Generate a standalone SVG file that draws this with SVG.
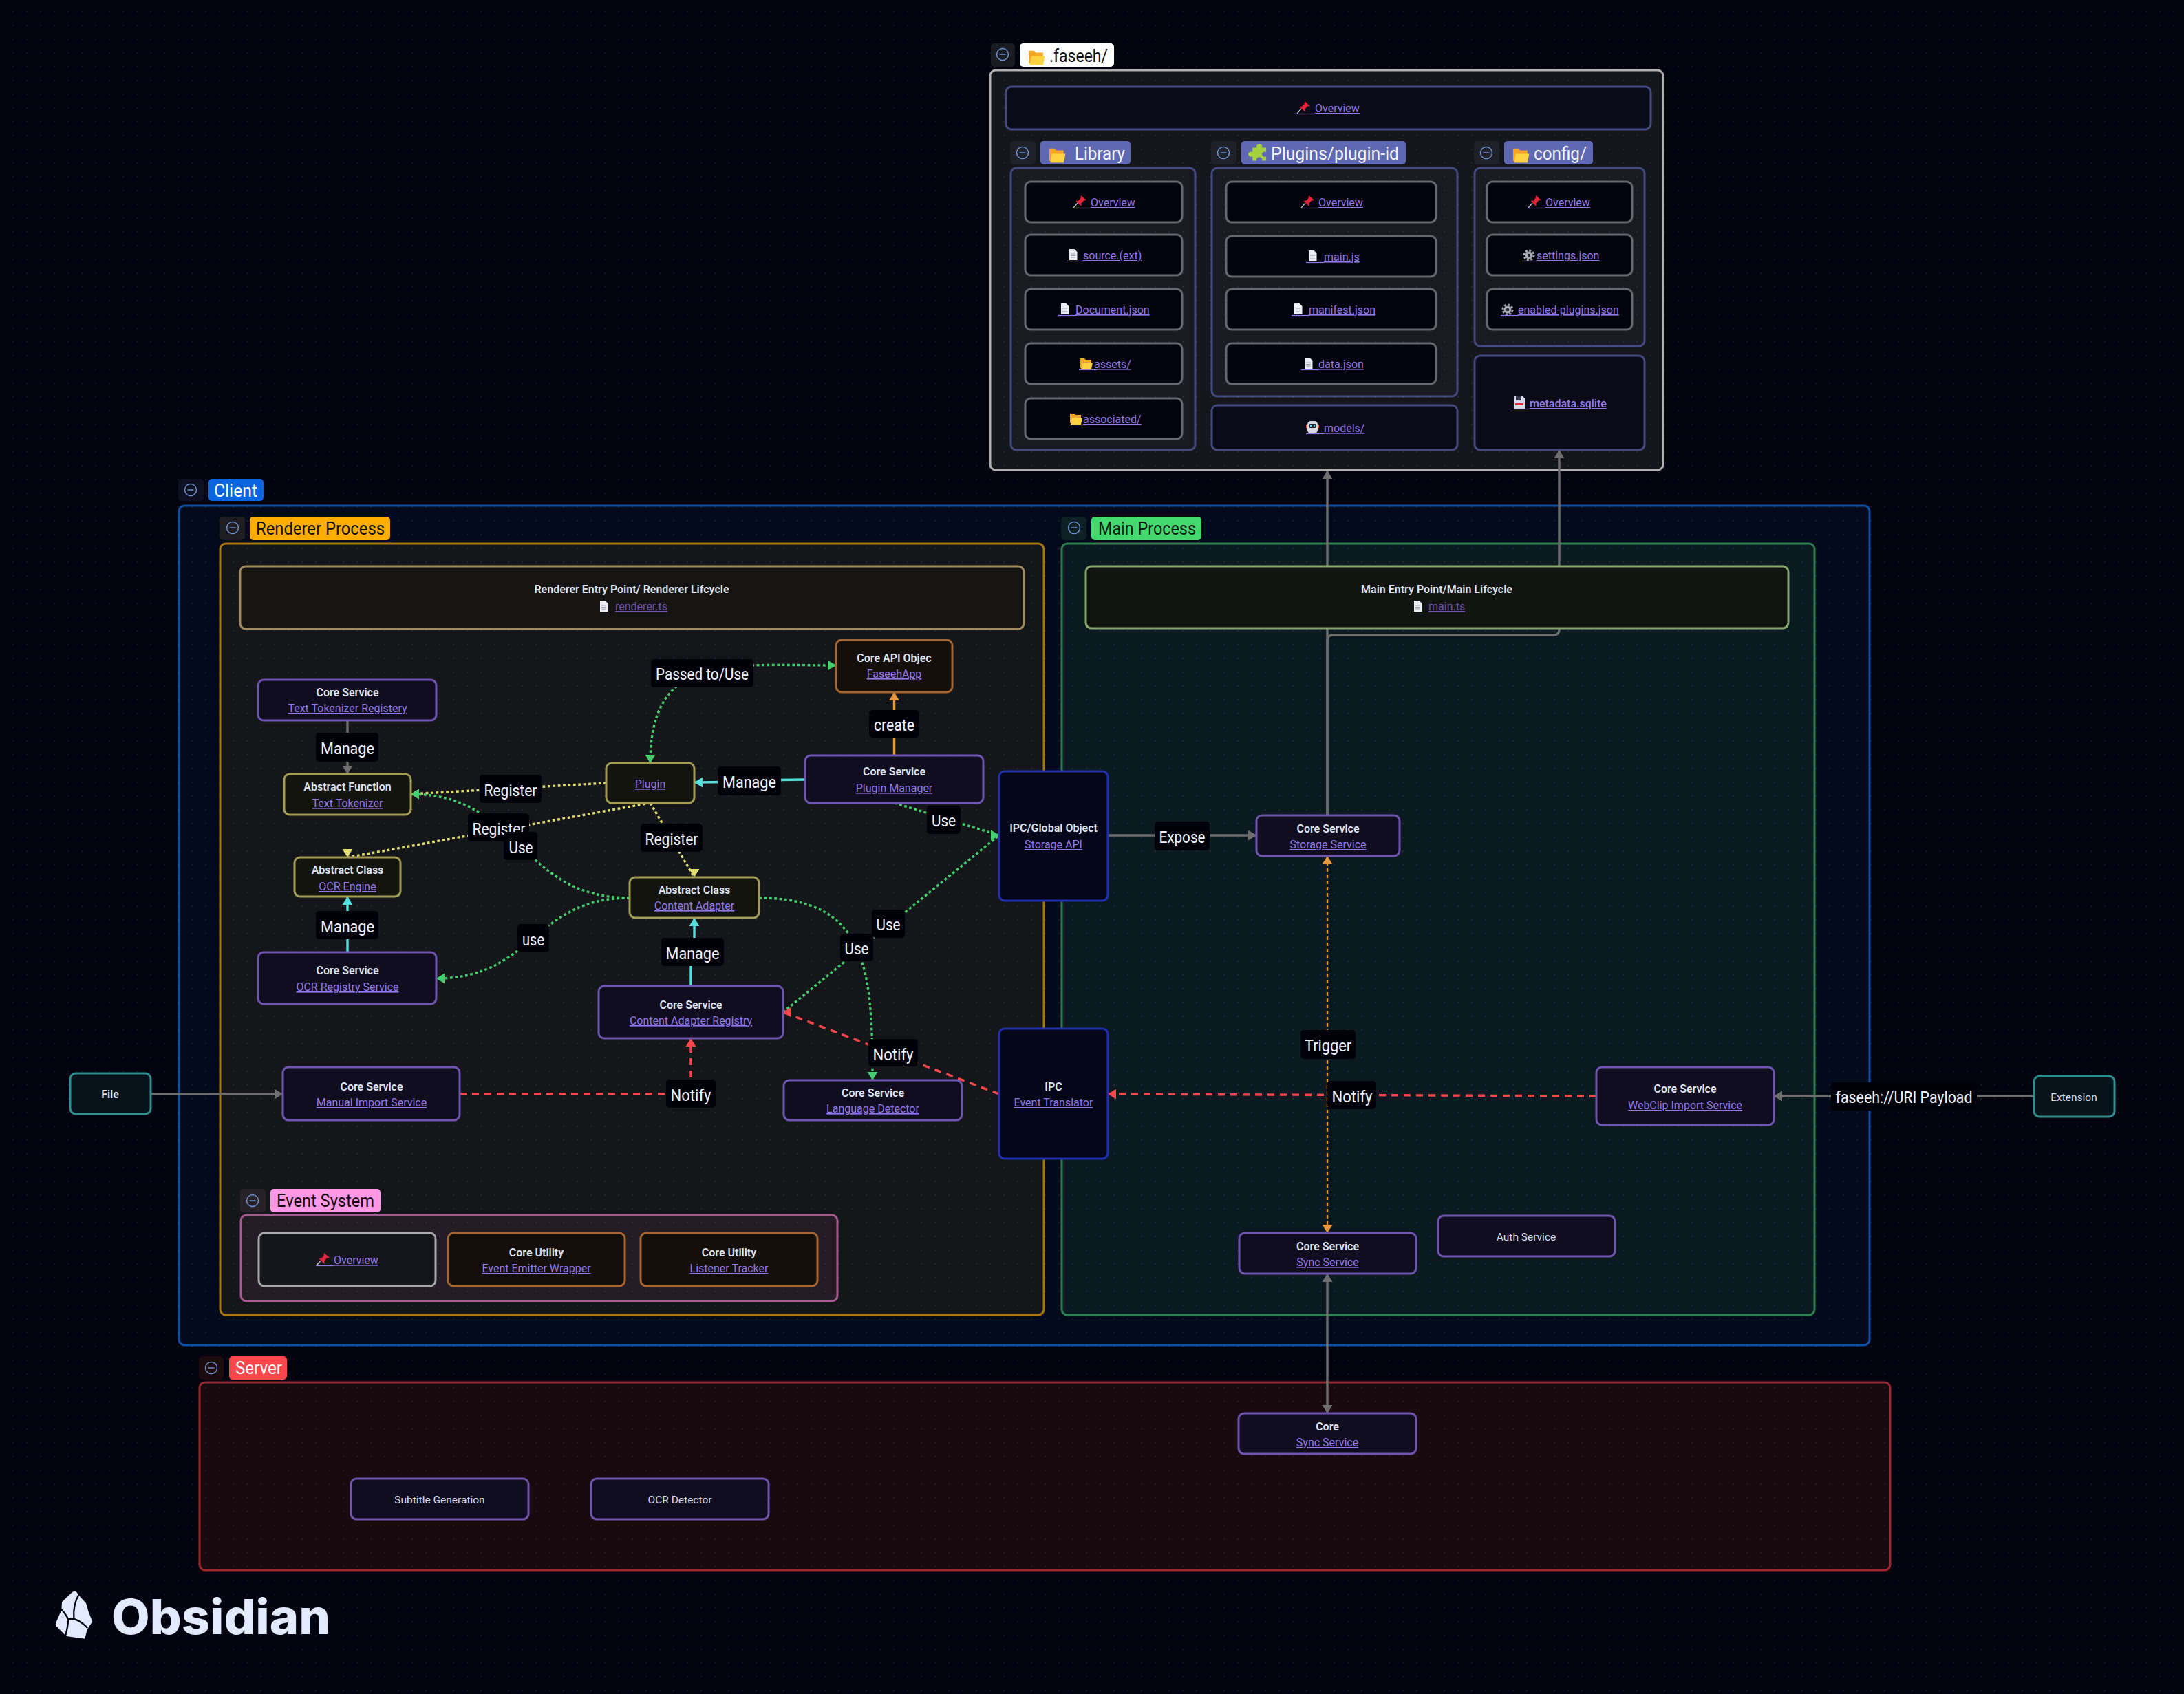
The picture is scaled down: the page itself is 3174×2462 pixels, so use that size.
<svg xmlns="http://www.w3.org/2000/svg" xmlns:xlink="http://www.w3.org/1999/xlink" width="3174" height="2462" viewBox="0 0 3174 2462">
<style>
text{font-family:"Roboto","Open Sans","Noto Sans",sans-serif}
.grp{stroke-width:3}
.n{stroke-width:3}
.pu{fill:#100d20;stroke:#6f54b0}
.ye{fill:#14140e;stroke:#a39c55}
.or{fill:#150f0b;stroke:#a8652e}
.bl{fill:#05061a;stroke:#1f30b4}
.te{fill:#06131a;stroke:#2f8f8f}
.in{fill:#03030e;stroke:#666870}
.ov{fill:#0a0a18;stroke:#434a80}
.wh{fill:#15161b;stroke:#a8a8a8}
.t{font-size:16px;font-weight:600;fill:#dfe3f0;text-anchor:middle}
.p{font-size:15.5px;fill:#d8dbe8;text-anchor:middle}
.l{font-size:16px;fill:#9379e6;text-anchor:middle;text-decoration:underline}
.ld{font-size:16px;fill:#6b52ae;text-decoration:underline}
.ls{font-size:16px;fill:#9379e6;text-decoration:underline}
.gt{font-size:25px}
.eb{fill:#01010a}
.et{font-size:24px;fill:#f2f4ff;text-anchor:middle;transform:translateY(1.500px)}
.c{fill:none;stroke-width:3.4}
.g{stroke:#6e6e6e}
.gn{stroke:#44cf6e;stroke-dasharray:3.8 3.6}
.yl{stroke:#e0de71;stroke-dasharray:3.8 3.6}
.cy{stroke:#53dfdd}
.og{stroke:#e9973f}
.rd{stroke:#fb464c;stroke-dasharray:10 8}
.ul{stroke:#9379e6;stroke-width:1.2;fill:none}
.btn{stroke:none}
.mi{fill:none;stroke:#6f90cc;stroke-width:1.5}
</style>
<defs>
<pattern id="dots" width="20" height="20" patternUnits="userSpaceOnUse" x="9" y="7"><circle cx="10" cy="10" r="1" fill="#8a94c8" fill-opacity=".16"/></pattern>
<marker id="g-u" markerUnits="userSpaceOnUse" markerWidth="14" markerHeight="16" refX="12" refY="8" orient="270"><path d="M0 .5L12 8L0 15.5z" fill="#6e6e6e"/></marker>
<marker id="g-d" markerUnits="userSpaceOnUse" markerWidth="14" markerHeight="16" refX="12" refY="8" orient="90"><path d="M0 .5L12 8L0 15.5z" fill="#6e6e6e"/></marker>
<marker id="g-l" markerUnits="userSpaceOnUse" markerWidth="14" markerHeight="16" refX="12" refY="8" orient="180"><path d="M0 .5L12 8L0 15.5z" fill="#6e6e6e"/></marker>
<marker id="g-r" markerUnits="userSpaceOnUse" markerWidth="14" markerHeight="16" refX="12" refY="8" orient="0"><path d="M0 .5L12 8L0 15.5z" fill="#6e6e6e"/></marker>
<marker id="gn-d" markerUnits="userSpaceOnUse" markerWidth="14" markerHeight="16" refX="12" refY="8" orient="90"><path d="M0 .5L12 8L0 15.5z" fill="#44cf6e"/></marker>
<marker id="gn-l" markerUnits="userSpaceOnUse" markerWidth="14" markerHeight="16" refX="12" refY="8" orient="180"><path d="M0 .5L12 8L0 15.5z" fill="#44cf6e"/></marker>
<marker id="gn-r" markerUnits="userSpaceOnUse" markerWidth="14" markerHeight="16" refX="12" refY="8" orient="0"><path d="M0 .5L12 8L0 15.5z" fill="#44cf6e"/></marker>
<marker id="yl-l" markerUnits="userSpaceOnUse" markerWidth="14" markerHeight="16" refX="12" refY="8" orient="180"><path d="M0 .5L12 8L0 15.5z" fill="#e0de71"/></marker>
<marker id="yl-d" markerUnits="userSpaceOnUse" markerWidth="14" markerHeight="16" refX="12" refY="8" orient="90"><path d="M0 .5L12 8L0 15.5z" fill="#e0de71"/></marker>
<marker id="cy-u" markerUnits="userSpaceOnUse" markerWidth="14" markerHeight="16" refX="12" refY="8" orient="270"><path d="M0 .5L12 8L0 15.5z" fill="#53dfdd"/></marker>
<marker id="cy-l" markerUnits="userSpaceOnUse" markerWidth="14" markerHeight="16" refX="12" refY="8" orient="180"><path d="M0 .5L12 8L0 15.5z" fill="#53dfdd"/></marker>
<marker id="og-u" markerUnits="userSpaceOnUse" markerWidth="14" markerHeight="16" refX="12" refY="8" orient="270"><path d="M0 .5L12 8L0 15.5z" fill="#e9973f"/></marker>
<marker id="og-d" markerUnits="userSpaceOnUse" markerWidth="14" markerHeight="16" refX="12" refY="8" orient="90"><path d="M0 .5L12 8L0 15.5z" fill="#e9973f"/></marker>
<marker id="rd-u" markerUnits="userSpaceOnUse" markerWidth="14" markerHeight="16" refX="12" refY="8" orient="270"><path d="M0 .5L12 8L0 15.5z" fill="#fb464c"/></marker>
<marker id="rd-l" markerUnits="userSpaceOnUse" markerWidth="14" markerHeight="16" refX="12" refY="8" orient="180"><path d="M0 .5L12 8L0 15.5z" fill="#fb464c"/></marker>
<g id="i-pin"><path d="M11-16L19-9 15-8.500 11.500-4.500 11.500 0 3.500-8 7.500-8.500 10.500-12z" fill="#e8233a"/><path d="M6-5L0 2" stroke="#c9ccd8" stroke-width="1.2"/></g>
<path id="i-ul26" class="ul" d="M0 2.500h26"/>
<g id="i-doc"><path d="M2-15h7.500l4 4V1h-11.500z" fill="#eeeef6"/><path d="M4-8h7M4-5.500h7M4-3h7" stroke="#a0a0b0" stroke-width="1"/></g>
<g id="i-folder"><path d="M0-14h6l2 2h8v12H0z" fill="#f5a623"/><path d="M3-8h15l-2 10H1z" fill="#ffd23f"/></g>
<g id="i-gear"><circle cx="8" cy="-6" r="7" fill="none" stroke="#a6a8b2" stroke-width="3" stroke-dasharray="3 2.500"/><circle cx="8" cy="-6" r="5.500" fill="#a6a8b2"/><circle cx="8" cy="-6" r="2.200" fill="#26262e"/></g>
<g id="i-floppy"><path d="M1-16h13l3 3V2H1z" fill="#d8d8e8"/><rect x="4" y="-16" width="8" height="6" fill="#333344"/><rect x="3" y="-6" width="12" height="3" fill="#e8233a"/></g>
<g id="i-robot"><rect x="1" y="-16" width="15" height="18" rx="5" fill="#d8d8e0"/><rect x="3" y="-12" width="11" height="6" rx="2" fill="#1e2430"/><rect x="5" y="-10.500" width="2" height="2.500" fill="#5fd8f0"/><rect x="10" y="-10.500" width="2" height="2.500" fill="#5fd8f0"/><rect x="-1" y="-11" width="2" height="5" fill="#e8533a"/><rect x="16" y="-11" width="2" height="5" fill="#e8533a"/></g>
<g id="i-puzzle"><path d="M4-16h6a4 4 0 1 1 7 0h6v7a4 4 0 1 0 0 7v7h-6a4 4 0 1 0-7 0H4V-2a4 4 0 1 1 0-7z" fill="#a4d13c"/></g>
<g id="i-minus"><circle r="8.500" class="mi"/><path d="M-4.500 0h9" class="mi"/></g>
</defs>
<rect id="canvas" width="3174" height="2462" fill="#02030f"/>
<g id="groups">
<g id="group-client"><rect class="grp" x="260" y="735" width="2457" height="1220" rx="8" fill="#020a1c" stroke="#0c4fa6"/></g>
<g id="group-renderer"><rect class="grp" x="320" y="790" width="1197" height="1121" rx="8" fill="#15161a" stroke="#a8780f"/></g>
<g id="group-main"><rect class="grp" x="1543" y="790" width="1094" height="1121" rx="8" fill="#0a1a20" stroke="#2e8050"/></g>
<g id="group-server"><rect class="grp" x="290" y="2009" width="2457" height="273" rx="8" fill="#180a0f" stroke="#9c2a2e"/></g>
<g id="group-faseeh"><rect class="grp" x="1439" y="102" width="978" height="581" rx="8" fill="#15161b" stroke="#b0b0b0"/></g>
<g id="group-library"><rect class="grp" x="1469" y="244" width="268" height="410" rx="8" fill="#191a22" stroke="#434a80"/></g>
<g id="group-plugins"><rect class="grp" x="1761" y="244" width="357" height="332" rx="8" fill="#191a22" stroke="#434a80"/></g>
<g id="group-config"><rect class="grp" x="2143" y="244" width="247" height="259" rx="8" fill="#191a22" stroke="#434a80"/></g>
<g id="group-event"><rect class="grp" x="350" y="1766" width="867" height="125" rx="8" fill="#241d26" stroke="#a65a90"/></g>
</g>
<rect id="grid" width="3174" height="2462" fill="url(#dots)"/>
<g id="group-labels">
<g id="label-faseeh"><rect class="btn" x="1440" y="63" width="35" height="34" rx="5" fill="#1a1b22"/><use href="#i-minus" x="1457" y="79"/><rect x="1482" y="63" width="137" height="34" rx="5" fill="#fff"/><use href="#i-folder" transform="translate(1495 92) scale(1.3)"/><text class="gt" x="1525" y="90" fill="#0c0c14" textLength="85" lengthAdjust="spacingAndGlyphs">.faseeh/</text></g>
<g id="label-library"><rect class="btn" x="1468" y="205" width="37" height="34" rx="5" fill="#1f2029"/><use href="#i-minus" x="1486" y="222"/><rect x="1512" y="205" width="131" height="34" rx="5" fill="#5f68b2"/><use href="#i-folder" transform="translate(1525 234) scale(1.3)"/><text class="gt" x="1562" y="232" fill="#f4f6ff" textLength="73" lengthAdjust="spacingAndGlyphs">Library</text></g>
<g id="label-plugins"><rect class="btn" x="1760" y="205" width="37" height="34" rx="5" fill="#1f2029"/><use href="#i-minus" x="1778" y="222"/><rect x="1804" y="205" width="239" height="34" rx="5" fill="#5f68b2"/><use href="#i-puzzle" transform="translate(1816 229) scale(1.05 .9)"/><text class="gt" x="1847" y="232" fill="#f4f6ff" textLength="186" lengthAdjust="spacingAndGlyphs">Plugins/plugin-id</text></g>
<g id="label-config"><rect class="btn" x="2142" y="205" width="37" height="34" rx="5" fill="#1f2029"/><use href="#i-minus" x="2160" y="222"/><rect x="2186" y="205" width="129" height="34" rx="5" fill="#5f68b2"/><use href="#i-folder" transform="translate(2199 234) scale(1.3)"/><text class="gt" x="2229" y="232" fill="#f4f6ff" textLength="77" lengthAdjust="spacingAndGlyphs">config/</text></g>
<g id="label-client"><rect class="btn" x="259" y="696" width="37" height="32" rx="5" fill="#0b1120"/><use href="#i-minus" x="277" y="712"/><rect x="303" y="696" width="80" height="32" rx="5" fill="#0a65e0"/><text class="gt" x="311" y="722" fill="#fff" textLength="63" lengthAdjust="spacingAndGlyphs">Client</text></g>
<g id="label-renderer"><rect class="btn" x="319" y="751" width="37" height="34" rx="5" fill="#1e1e22"/><use href="#i-minus" x="338" y="767"/><rect x="363" y="751" width="204" height="34" rx="5" fill="#ffae00"/><text class="gt" x="372" y="777" fill="#14100a" textLength="187" lengthAdjust="spacingAndGlyphs">Renderer Process</text></g>
<g id="label-main"><rect class="btn" x="1542" y="751" width="37" height="34" rx="5" fill="#0c2026"/><use href="#i-minus" x="1561" y="767"/><rect x="1586" y="751" width="160" height="34" rx="5" fill="#44d96e"/><text class="gt" x="1596" y="777" fill="#0c1a10" textLength="142" lengthAdjust="spacingAndGlyphs">Main Process</text></g>
<g id="label-event"><rect class="btn" x="349" y="1728" width="37" height="34" rx="5" fill="#272228"/><use href="#i-minus" x="367" y="1745"/><rect x="393" y="1728" width="160" height="34" rx="5" fill="#ff99e6"/><text class="gt" x="402" y="1754" fill="#120a10" textLength="142" lengthAdjust="spacingAndGlyphs">Event System</text></g>
<g id="label-server"><rect class="btn" x="289" y="1971" width="36" height="34" rx="5" fill="#1c0c10"/><use href="#i-minus" x="307" y="1988"/><rect x="333" y="1971" width="84" height="34" rx="5" fill="#fb464c"/><text class="gt" x="342" y="1997" fill="#fff" textLength="68" lengthAdjust="spacingAndGlyphs">Server</text></g>
</g>
<g id="connectors">
<path class="c g" d="M505 1047V1125" marker-end="url(#g-d)"/>
<path class="c g" d="M219 1590H411" marker-end="url(#g-r)"/>
<path class="c g" d="M2956 1593H2578" marker-end="url(#g-l)"/>
<path class="c g" d="M1610 1214H1826" marker-end="url(#g-r)"/>
<path class="c g" d="M1929 1185V684" marker-end="url(#g-u)"/>
<path class="c g" d="M1929 1185V931Q1929 923 1937 923H2258Q2266 923 2266 915V654" marker-end="url(#g-u)"/>
<path class="c g" d="M1929 1851V2054" marker-start="url(#g-u)" marker-end="url(#g-d)"/>
<path class="c cy" d="M505 1384V1303" marker-end="url(#cy-u)"/>
<path class="c cy" d="M1170 1133C1100 1133 1080 1137 1009 1137" marker-end="url(#cy-l)"/>
<path class="c cy" d="M1004 1433V1383H1009V1334" marker-end="url(#cy-u)"/>
<path class="c og" d="M1299.500 1098V1006" marker-end="url(#og-u)"/>
<path class="c og" style="stroke-width:2.4;stroke-dasharray:5 4" d="M1929 1244V1792" marker-start="url(#og-u)" marker-end="url(#og-d)"/>
<path class="c yl" d="M881 1138L597 1154" marker-end="url(#yl-l)"/>
<path class="c yl" d="M945 1167L505 1246" marker-end="url(#yl-d)"/>
<path class="c yl" d="M945 1167L1009 1275" marker-end="url(#yl-d)"/>
<path class="c gn" d="M915 1305C756 1305 756 1154 597 1154" marker-end="url(#gn-l)"/>
<path class="c gn" d="M915 1305C775 1305 775 1422 634 1422" marker-end="url(#gn-l)"/>
<path class="c gn" d="M945 1109C945 949 1055 967 1215 967" marker-start="url(#gn-d)" marker-end="url(#gn-r)"/>
<path class="c gn" d="M1300 1167L1452 1214" marker-end="url(#gn-r)"/>
<path class="c gn" d="M1138 1471L1452 1214" marker-end="url(#gn-r)"/>
<path class="c gn" d="M1103 1305C1261 1305 1268 1409 1268 1570" marker-end="url(#gn-d)"/>
<path class="c rd" d="M1452 1590L1138 1471" marker-end="url(#rd-l)"/>
<path class="c rd" d="M668 1590H1004V1509" marker-end="url(#rd-u)"/>
<path class="c rd" d="M2320 1593L1610 1590" marker-end="url(#rd-l)"/>
</g>
<g id="nodes">
<g id="n-faseeh-overview"><rect class="n ov" x="1462" y="126" width="937" height="62" rx="8"/><use href="#i-pin" x="1885" y="163"/><use href="#i-ul26" x="1885" y="163"/><text class="ls" x="1911" y="163">Overview</text></g>
<g id="n-lib-overview"><rect class="n in" x="1490" y="264" width="228" height="59" rx="8"/><use href="#i-pin" x="1560" y="300"/><use href="#i-ul26" x="1559" y="300"/><text class="ls" x="1585" y="300">Overview</text></g>
<g id="n-lib-source"><rect class="n in" x="1490" y="341" width="228" height="59" rx="8"/><use href="#i-doc" x="1552" y="377"/><use href="#i-ul26" x="1550" y="377"/><text class="ls" x="1574" y="377">source.(ext)</text></g>
<g id="n-lib-document"><rect class="n in" x="1490" y="420" width="228" height="59" rx="8"/><use href="#i-doc" x="1540" y="456"/><use href="#i-ul26" x="1538" y="456"/><text class="ls" x="1563" y="456">Document.json</text></g>
<g id="n-lib-assets"><rect class="n in" x="1490" y="499" width="228" height="59" rx="8"/><use href="#i-folder" x="1570" y="535"/><use href="#i-ul26" x="1568" y="535"/><text class="ls" x="1590" y="535">assets/</text></g>
<g id="n-lib-associated"><rect class="n in" x="1490" y="579" width="228" height="59" rx="8"/><use href="#i-folder" x="1555" y="615"/><use href="#i-ul26" x="1553" y="615"/><text class="ls" x="1574" y="615">associated/</text></g>
<g id="n-plg-overview"><rect class="n in" x="1782" y="264" width="305" height="59" rx="8"/><use href="#i-pin" x="1891" y="300"/><use href="#i-ul26" x="1890" y="300"/><text class="ls" x="1916" y="300">Overview</text></g>
<g id="n-plg-main"><rect class="n in" x="1782" y="343" width="305" height="59" rx="8"/><use href="#i-doc" x="1900" y="379"/><use href="#i-ul26" x="1898" y="379"/><text class="ls" x="1924" y="379">main.js</text></g>
<g id="n-plg-manifest"><rect class="n in" x="1782" y="420" width="305" height="59" rx="8"/><use href="#i-doc" x="1879" y="456"/><use href="#i-ul26" x="1877" y="456"/><text class="ls" x="1902" y="456">manifest.json</text></g>
<g id="n-plg-data"><rect class="n in" x="1782" y="499" width="305" height="59" rx="8"/><use href="#i-doc" x="1894" y="535"/><use href="#i-ul26" x="1891" y="535"/><text class="ls" x="1916" y="535">data.json</text></g>
<g id="n-models"><rect class="n ov" x="1761" y="589" width="357" height="65" rx="8"/><use href="#i-robot" x="1899" y="628"/><use href="#i-ul26" x="1898" y="628"/><text class="ls" x="1924" y="628">models/</text></g>
<g id="n-cfg-overview"><rect class="n in" x="2161" y="264" width="211" height="59" rx="8"/><use href="#i-pin" x="2221" y="300"/><use href="#i-ul26" x="2220" y="300"/><text class="ls" x="2246" y="300">Overview</text></g>
<g id="n-cfg-settings"><rect class="n in" x="2161" y="341" width="211" height="59" rx="8"/><use href="#i-gear" x="2214" y="377"/><use href="#i-ul26" x="2212" y="377"/><text class="ls" x="2233" y="377">settings.json</text></g>
<g id="n-cfg-enabled"><rect class="n in" x="2161" y="420" width="211" height="59" rx="8"/><use href="#i-gear" x="2183" y="456"/><use href="#i-ul26" x="2181" y="456"/><text class="ls" x="2206" y="456">enabled-plugins.json</text></g>
<g id="n-metadata"><rect class="n ov" x="2143" y="517" width="247" height="137" rx="8"/><use href="#i-floppy" x="2199" y="592"/><use href="#i-ul26" x="2198" y="592"/><text class="ls" style="font-weight:500" x="2223" y="592">metadata.sqlite</text></g>
<g id="n-renderer-entry"><rect class="n" x="349" y="823" width="1139" height="91" rx="8" fill="#161412" stroke="#a08a5a"/><text class="t" x="918" y="862">Renderer Entry Point/ Renderer Lifcycle</text><use href="#i-doc" x="870" y="888"/><text class="ld" x="894" y="887">renderer.ts</text></g>
<g id="n-main-entry"><rect class="n" x="1578" y="823" width="1021" height="90" rx="8" fill="#121411" stroke="#86a868"/><text class="t" x="2088" y="862">Main Entry Point/Main Lifcycle</text><use href="#i-doc" x="2053" y="888"/><text class="ld" x="2076" y="887">main.ts</text></g>
<g id="n-ttr"><rect class="n pu" x="375" y="988" width="259" height="59" rx="8"/><text class="t" x="505" y="1012">Core Service</text><text class="l" x="505" y="1035">Text Tokenizer Registery</text></g>
<g id="n-tt"><rect class="n ye" x="413" y="1125" width="184" height="59" rx="8"/><text class="t" x="505" y="1149">Abstract Function</text><text class="l" x="505" y="1173">Text Tokenizer</text></g>
<g id="n-ocr-engine"><rect class="n ye" x="428" y="1246" width="154" height="57" rx="8"/><text class="t" x="505" y="1270">Abstract Class</text><text class="l" x="505" y="1294">OCR Engine</text></g>
<g id="n-ocr-reg"><rect class="n pu" x="375" y="1384" width="259" height="75" rx="8"/><text class="t" x="505" y="1416">Core Service</text><text class="l" x="505" y="1440">OCR Registry Service</text></g>
<g id="n-faseehapp"><rect class="n or" x="1215" y="930" width="169" height="76" rx="8"/><text class="t" x="1299.500" y="962">Core API Objec</text><text class="l" x="1299.500" y="985">FaseehApp</text></g>
<g id="n-plugin-mgr"><rect class="n pu" x="1170" y="1098" width="259" height="69" rx="8"/><text class="t" x="1299.500" y="1127">Core Service</text><text class="l" x="1299.500" y="1151">Plugin Manager</text></g>
<g id="n-plugin"><rect class="n ye" x="881" y="1109" width="128" height="58" rx="8"/><text class="l" x="945" y="1145">Plugin</text></g>
<g id="n-content-adapter"><rect class="n ye" x="915" y="1275" width="188" height="59" rx="8"/><text class="t" x="1009" y="1299">Abstract Class</text><text class="l" x="1009" y="1322">Content Adapter</text></g>
<g id="n-car"><rect class="n pu" x="870" y="1433" width="268" height="76" rx="8"/><text class="t" x="1004" y="1466">Core Service</text><text class="l" x="1004" y="1489">Content Adapter Registry</text></g>
<g id="n-lang"><rect class="n pu" x="1139" y="1570" width="259" height="58" rx="8"/><text class="t" x="1268.500" y="1594">Core Service</text><text class="l" x="1268.500" y="1617">Language Detector</text></g>
<g id="n-ipc-global"><rect class="n bl" x="1452" y="1121" width="158" height="188" rx="8"/><text class="t" x="1531" y="1209">IPC/Global Object</text><text class="l" x="1531" y="1233">Storage API</text></g>
<g id="n-ipc"><rect class="n bl" x="1452" y="1495" width="158" height="189" rx="8"/><text class="t" x="1531" y="1585">IPC</text><text class="l" x="1531" y="1608">Event Translator</text></g>
<g id="n-storage"><rect class="n pu" x="1826" y="1185" width="208" height="59" rx="8"/><text class="t" x="1930" y="1210">Core Service</text><text class="l" x="1930" y="1233">Storage Service</text></g>
<g id="n-file"><rect class="n te" x="102" y="1560" width="117" height="59" rx="8"/><text class="t" x="160" y="1596">File</text></g>
<g id="n-manual"><rect class="n pu" x="411" y="1551" width="257" height="77" rx="8"/><text class="t" x="540" y="1585">Core Service</text><text class="l" x="540" y="1608">Manual Import Service</text></g>
<g id="n-webclip"><rect class="n pu" x="2320" y="1551" width="258" height="84" rx="8"/><text class="t" x="2449" y="1588">Core Service</text><text class="l" x="2449" y="1612">WebClip Import Service</text></g>
<g id="n-extension"><rect class="n te" x="2956" y="1564" width="117" height="59" rx="8"/><text class="p" x="3014" y="1600">Extension</text></g>
<g id="n-sync"><rect class="n pu" x="1801" y="1792" width="257" height="59" rx="8"/><text class="t" x="1929.500" y="1817">Core Service</text><text class="l" x="1929.500" y="1840">Sync Service</text></g>
<g id="n-auth"><rect class="n pu" x="2090" y="1767" width="257" height="59" rx="8"/><text class="p" x="2218" y="1803">Auth Service</text></g>
<g id="n-event-overview"><rect class="n wh" x="376" y="1792" width="257" height="77" rx="8"/><use href="#i-pin" x="460" y="1837"/><use href="#i-ul26" x="459" y="1837"/><text class="ls" x="485" y="1837">Overview</text></g>
<g id="n-emitter"><rect class="n or" x="651" y="1792" width="257" height="77" rx="8"/><text class="t" x="779.500" y="1826">Core Utility</text><text class="l" x="779.500" y="1849">Event Emitter Wrapper</text></g>
<g id="n-listener"><rect class="n or" x="931" y="1792" width="257" height="77" rx="8"/><text class="t" x="1059.500" y="1826">Core Utility</text><text class="l" x="1059.500" y="1849">Listener Tracker</text></g>
<g id="n-core-sync"><rect class="n pu" x="1800" y="2054" width="258" height="59" rx="8"/><text class="t" x="1929" y="2079">Core</text><text class="l" x="1929" y="2102">Sync Service</text></g>
<g id="n-subtitle"><rect class="n pu" x="510" y="2149" width="258" height="59" rx="8"/><text class="p" x="639" y="2185">Subtitle Generation</text></g>
<g id="n-ocr-detector"><rect class="n pu" x="859" y="2149" width="258" height="59" rx="8"/><text class="p" x="988" y="2185">OCR Detector</text></g>
</g>
<g id="edge-labels">
<g><rect class="eb" x="459" y="1065" width="91" height="42" rx="5"/><text class="et" x="505" y="1094" textLength="78" lengthAdjust="spacingAndGlyphs">Manage</text></g>
<g><rect class="eb" x="459" y="1324" width="91" height="41" rx="5"/><text class="et" x="505" y="1353" textLength="78" lengthAdjust="spacingAndGlyphs">Manage</text></g>
<g><rect class="eb" x="697" y="1126" width="90" height="41" rx="5"/><text class="et" x="742" y="1155" textLength="77" lengthAdjust="spacingAndGlyphs">Register</text></g>
<g><rect class="eb" x="680" y="1182" width="89" height="41" rx="5"/><text class="et" x="725" y="1211" textLength="77" lengthAdjust="spacingAndGlyphs">Register</text></g>
<g><rect class="eb" x="732" y="1209" width="49" height="41" rx="5"/><text class="et" x="757" y="1238" textLength="35" lengthAdjust="spacingAndGlyphs">Use</text></g>
<g><rect class="eb" x="931" y="1197" width="90" height="41" rx="5"/><text class="et" x="976" y="1226" textLength="77" lengthAdjust="spacingAndGlyphs">Register</text></g>
<g><rect class="eb" x="752" y="1343" width="46" height="41" rx="5"/><text class="et" x="775" y="1372" textLength="32" lengthAdjust="spacingAndGlyphs">use</text></g>
<g><rect class="eb" x="946" y="958" width="149" height="41" rx="5"/><text class="et" x="1020.500" y="986" textLength="135" lengthAdjust="spacingAndGlyphs">Passed to/Use</text></g>
<g><rect class="eb" x="1043" y="1114" width="92" height="42" rx="5"/><text class="et" x="1089" y="1143" textLength="78" lengthAdjust="spacingAndGlyphs">Manage</text></g>
<g><rect class="eb" x="1263" y="1032" width="73" height="40" rx="5"/><text class="et" x="1299.500" y="1060" textLength="59" lengthAdjust="spacingAndGlyphs">create</text></g>
<g><rect class="eb" x="1347" y="1171" width="49" height="41" rx="5"/><text class="et" x="1371.500" y="1199" textLength="35" lengthAdjust="spacingAndGlyphs">Use</text></g>
<g><rect class="eb" x="1267" y="1322" width="48" height="41" rx="5"/><text class="et" x="1291" y="1350" textLength="35" lengthAdjust="spacingAndGlyphs">Use</text></g>
<g><rect class="eb" x="1221" y="1357" width="48" height="40" rx="5"/><text class="et" x="1245" y="1385" textLength="35" lengthAdjust="spacingAndGlyphs">Use</text></g>
<g><rect class="eb" x="961" y="1363" width="91" height="41" rx="5"/><text class="et" x="1006.500" y="1392" textLength="78" lengthAdjust="spacingAndGlyphs">Manage</text></g>
<g><rect class="eb" x="1262" y="1510" width="72" height="40" rx="5"/><text class="et" x="1298" y="1539" textLength="59" lengthAdjust="spacingAndGlyphs">Notify</text></g>
<g><rect class="eb" x="968" y="1569" width="72" height="41" rx="5"/><text class="et" x="1004" y="1598" textLength="59" lengthAdjust="spacingAndGlyphs">Notify</text></g>
<g><rect class="eb" x="1929" y="1571" width="71" height="41" rx="5"/><text class="et" x="1965" y="1600" textLength="59" lengthAdjust="spacingAndGlyphs">Notify</text></g>
<g><rect class="eb" x="1890" y="1497" width="80" height="42" rx="5"/><text class="et" x="1930" y="1526" textLength="68" lengthAdjust="spacingAndGlyphs">Trigger</text></g>
<g><rect class="eb" x="1678" y="1194" width="80" height="42" rx="5"/><text class="et" x="1718" y="1223" textLength="67" lengthAdjust="spacingAndGlyphs">Expose</text></g>
<g><rect class="eb" x="2661" y="1573" width="212" height="41" rx="5"/><text class="et" x="2767" y="1601" textLength="199" lengthAdjust="spacingAndGlyphs">faseeh://URI Payload</text></g>
</g>
<g id="logo">
<g transform="translate(70 2300) scale(.3333)"><path d="M115 38Q125 38 130 52L165 90Q172 110 175 125L193 170L170 205L160 245Q120 240 85 235L75 230L35 190Q30 183 34 175L58 120L60 85L105 42Z" fill="#e1eaff"/><path d="M134 52Q108 95 112 155M55 115Q72 130 88 160Q85 200 75 232M88 160Q125 150 172 198" fill="none" stroke="#02030f" stroke-width="7"/></g>
<text x="162" y="2375" font-size="70" font-weight="800" fill="#e1eaff" textLength="318" lengthAdjust="spacingAndGlyphs" style="font-family:Inter,sans-serif">Obsidian</text>
</g>
</svg>
